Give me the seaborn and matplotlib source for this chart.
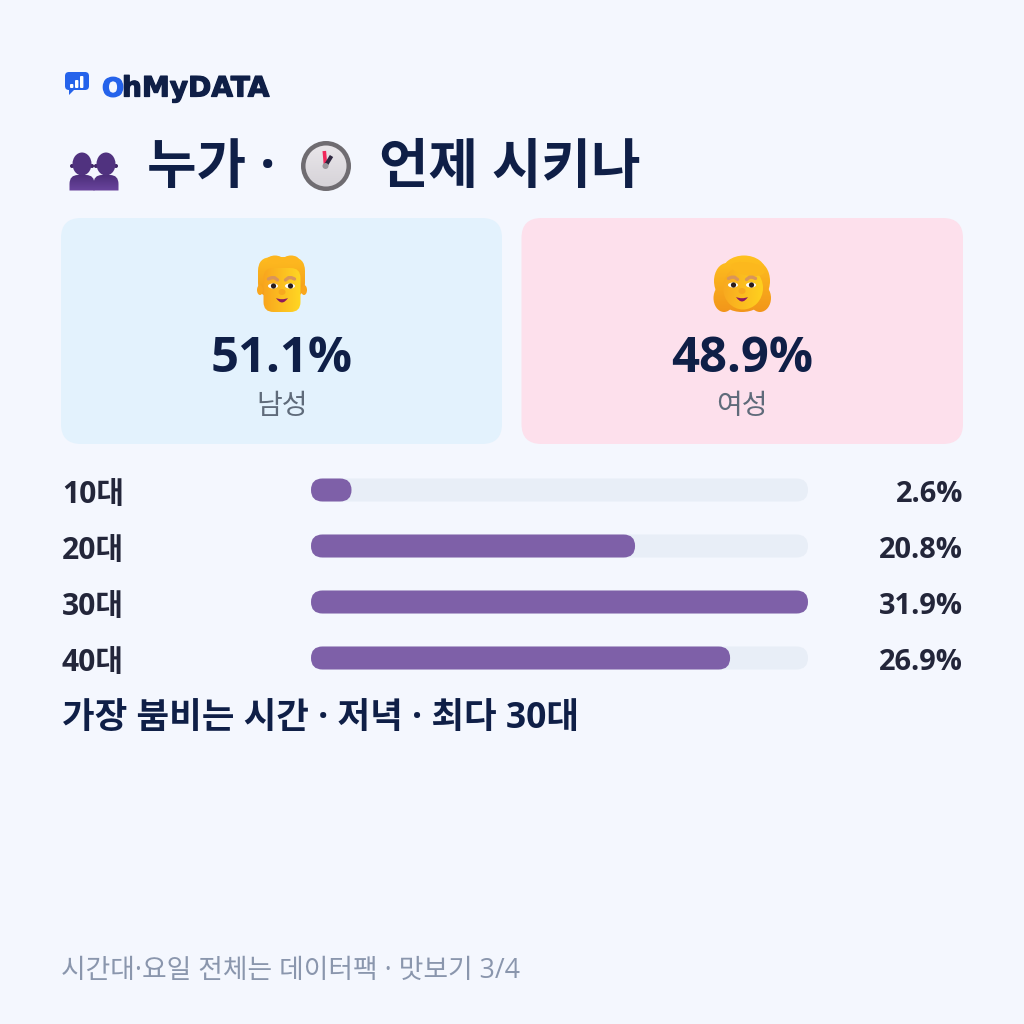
import numpy as np
import pandas as pd
import seaborn as sns
import matplotlib
matplotlib.use("Agg")
import matplotlib.pyplot as plt
from matplotlib.patches import FancyBboxPatch, Circle, Ellipse, Polygon, PathPatch
from matplotlib.path import Path
from matplotlib.colors import LinearSegmentedColormap
import matplotlib.patheffects as pe

age_labels = ["10대", "20대", "30대", "40대"]
age_shares = [2.6, 20.8, 31.9, 26.9]
gender_labels = ["남성", "여성"]
gender_shares = [51.1, 48.9]
title_parts = ["누가 ·", "언제 시키나"]
headline = "가장 붐비는 시간 · 저녁 · 최다 30대"
footer = "시간대·요일 전체는 데이터팩 · 맛보기 3/4"

BG = "#f4f7fe"
NAVY = "#0f1f47"
INK = "#23263a"
BAR = "#7e60a8"
TRACK = "#e8eef7"

sns.set_theme(style="white")
BODY_FONT = ["Open Sans", "Noto Sans CJK KR", "DejaVu Sans"]
plt.rcParams["font.family"] = BODY_FONT

fig = plt.figure(figsize=(10.24, 10.24), dpi=100, facecolor=BG)
canvas = fig.add_axes([0, 0, 1, 1])
canvas.set_xlim(0, 1024)
canvas.set_ylim(1024, 0)
canvas.axis("off")
canvas.set_autoscale_on(False)


def px(size):
    return size * 0.72


def bold_text(x, y, s, color, size, ha="left"):
    return canvas.text(x, y, s, color=color, fontsize=px(size), fontweight="bold",
                       ha=ha, va="center", zorder=20)


def rounded(x0, y0, x1, y1, r, color, z=2):
    patch = FancyBboxPatch((x0, y0), x1 - x0, y1 - y0,
                           boxstyle=f"round,pad=0,rounding_size={r}",
                           fc=color, ec="none", zorder=z)
    canvas.add_patch(patch)
    return patch


def shaded(patch, colors, extent, z, horizontal=False):
    """Fill a patch with a linear gradient clipped to its outline."""
    patch.set_facecolor("none")
    canvas.add_patch(patch)
    cmap = LinearSegmentedColormap.from_list("fill", colors)
    ramp = np.linspace(0, 1, 128).reshape(-1, 1)
    if horizontal:
        ramp = ramp.T
    img = canvas.imshow(ramp, cmap=cmap, extent=extent, aspect="auto",
                        origin="upper", zorder=z, interpolation="bilinear")
    img.set_clip_path(patch)
    canvas.set_xlim(0, 1024)
    canvas.set_ylim(1024, 0)


# Brand mark and wordmark
rounded(65, 72, 89, 90, 4, "#2563eb", 3)
canvas.add_patch(Polygon([[69, 88], [75, 89], [69, 95]], fc="#2563eb", ec="none", zorder=3))
for x0, y0 in [(70, 84), (75, 80), (80, 76)]:
    rounded(x0, y0, x0 + 3.4, 88, 1, "white", 4)
mark_o = canvas.text(102, 96.5, "O", color="#2563eb", fontsize=px(26), family="DejaVu Sans",
                     fontweight="bold", va="baseline", ha="left")
mark_o.set_path_effects([pe.withStroke(linewidth=0.9, foreground="#2563eb")])
wordmark = canvas.text(122, 96.5, "hMyDATA", color=NAVY, fontsize=px(28), family="DejaVu Sans",
                       fontweight="bold", va="baseline", ha="left")
wordmark.set_path_effects([pe.withStroke(linewidth=0.9, foreground=NAVY)])

# Title row: silhouettes of two people
for cx in (82, 106):
    shoulders = Path([(cx - 12.5, 190.5), (cx - 12.5, 184), (cx - 12.5, 175), (cx - 4, 175),
                      (cx + 4, 175), (cx + 12.5, 175), (cx + 12.5, 184), (cx + 12.5, 190.5),
                      (cx - 12.5, 190.5)],
                     [Path.MOVETO, Path.LINETO, Path.CURVE3, Path.CURVE3, Path.LINETO,
                      Path.CURVE3, Path.CURVE3, Path.LINETO, Path.CLOSEPOLY])
    shaded(PathPatch(shoulders, ec="none", fc="none", zorder=5),
           ["#4b2d78", "#6a459e"], (cx - 13, cx + 13, 191, 174), 5)
    canvas.add_patch(Ellipse((cx, 164), 19, 23, fc="#50327f", ec="none", zorder=6))
    canvas.add_patch(Circle((cx - 10, 166), 2, fc="#3f2566", ec="none", zorder=5))
    canvas.add_patch(Circle((cx + 10, 166), 2, fc="#3f2566", ec="none", zorder=5))

bold_text(147, 169, title_parts[0], NAVY, 53.8)

# Title row: clock face
canvas.add_patch(Circle((326, 166), 25, fc="#6f6c71", ec="none", zorder=5))
face = Circle((326, 166), 20.5, ec="none", fc="none", zorder=6)
shaded(face, ["#e9e6ea", "#d6d3d8"], (305, 347, 187, 145), 6)
canvas.plot([325.5, 324.3], [165, 151], color="#f0285a", lw=2.6, solid_capstyle="butt", zorder=7)
canvas.plot([326, 331.5], [165, 156], color="#2e2740", lw=2.8, solid_capstyle="butt", zorder=7)
canvas.add_patch(Circle((325.5, 166), 3, fc="#9a979c", ec="none", zorder=8))

bold_text(379, 169, title_parts[1], NAVY, 53.8)

# Gender cards
rounded(61, 218, 502, 444, 20, "#e3f2fd", 1)
rounded(521.5, 218, 963, 444, 20, "#fde0ec", 1)
for cx, share, label in zip((282, 742), gender_shares, gender_labels):
    bold_text(cx, 360, f"{share}%", NAVY, 49, ha="center")
    canvas.text(cx, 407, label, color="#5f6b7a", fontsize=px(28), ha="center", va="center")


def face_details(lx, rx, eye_y, brow_y, mouth_x, mouth_y, z=12):
    for side, ex in ((-1, lx), (1, rx)):
        canvas.add_patch(Ellipse((ex, eye_y), 10, 5, fc="white", ec="none", zorder=z))
        canvas.add_patch(Circle((ex + 0.5, eye_y), 2.6, fc="#2a1c1c", ec="none", zorder=z + 1))
        canvas.plot([ex - 4.5, ex - 1.5, ex + 1.5, ex + 4.5],
                    [brow_y + 1 + side * 0.5, brow_y - 0.8, brow_y - 0.8, brow_y + 1 - side * 0.5],
                    color="#d9955a", lw=2.4, solid_capstyle="round", zorder=z)
    mouth = Path([(mouth_x - 6, mouth_y - 2), (mouth_x, mouth_y + 0.5), (mouth_x + 6, mouth_y - 2),
                  (mouth_x, mouth_y + 7), (mouth_x - 6, mouth_y - 2)],
                 [Path.MOVETO, Path.CURVE3, Path.CURVE3, Path.CURVE3, Path.CURVE3])
    canvas.add_patch(PathPatch(mouth, fc="#8e1a5c", ec="none", zorder=z))
    canvas.add_patch(Ellipse((mouth_x, mouth_y - 8), 7, 6, fc="#f7a91e", ec="none", zorder=z - 1))


# Man: short swept hair, square face
man_hair = FancyBboxPatch((258, 257), 47, 40, boxstyle="round,pad=0,rounding_size=14",
                          ec="none", fc="none", zorder=8)
shaded(man_hair, ["#ffbe1f", "#f29a1c"], (256, 307, 297, 255), 8)
for cx, w in ((275, 16), (291, 16)):
    canvas.add_patch(Ellipse((cx, 260), w, 9, fc="#fdb61f", ec="none", zorder=8))
canvas.add_patch(Ellipse((260, 290), 6, 10, fc="#f9a61c", ec="none", zorder=8))
canvas.add_patch(Ellipse((304, 290), 6, 10, fc="#f9a61c", ec="none", zorder=8))
man_face = FancyBboxPatch((263.5, 268), 37, 44, boxstyle="round,pad=0,rounding_size=10",
                          ec="none", fc="none", zorder=9)
shaded(man_face, ["#f9a51e", "#ffd723"], (263, 301, 312, 268), 9, horizontal=True)
face_details(273, 290, 286, 278.5, 282, 300)

# Woman: full wavy hair, round face
for cx, cy, w, h in [(744, 272, 44, 33), (727, 281, 26, 36), (757, 281, 26, 38),
                     (724, 298, 21, 28), (760, 298, 22, 28), (742, 300, 40, 24)]:
    lobe = Ellipse((cx, cy), w, h, ec="none", fc="none", zorder=8)
    shaded(lobe, ["#ffc21f", "#f2951a"], (712, 773, 313, 255), 8)
woman_face = Ellipse((743, 288), 40, 43, ec="none", fc="none", zorder=9)
shaded(woman_face, ["#f8a81f", "#ffd21f"], (722, 764, 310, 264), 9, horizontal=True)
canvas.add_patch(Ellipse((748, 269), 34, 13, angle=10, fc="#fcb81d", ec="none", zorder=10))
face_details(733, 751, 285, 278, 742, 299)

# Age bars: seaborn draws them, then each one is rounded at its computed extent
bar_ax = fig.add_axes([311 / 1024, 1 - 686 / 1024, 497 / 1024, 224 / 1024])
bar_ax.patch.set_alpha(0)
ages = pd.DataFrame({"age": age_labels, "share": age_shares})
sns.barplot(data=ages, x="share", y="age", color=BAR, width=23 / 56, saturation=1, ax=bar_ax)
bar_ax.set_xlim(0, max(age_shares))
bar_ax.set_ylim(3.5, -0.5)
bar_ax.set_axis_off()

x_scale = 497 / max(age_shares)
radius = 11.5 / x_scale
aspect = x_scale / 56
top = max(age_shares)
for bar in list(bar_ax.patches):
    x, y, w, h = bar.get_x(), bar.get_y(), bar.get_width(), bar.get_height()
    for left, width, color, z in [(0, top, TRACK, 1), (x, w, BAR, 2)]:
        bar_ax.add_patch(FancyBboxPatch((left, y), width, h,
                                        boxstyle=f"round,pad=0,rounding_size={radius}",
                                        mutation_aspect=aspect, fc=color, ec="none", zorder=z))
    bar.remove()

for i, (label, share) in enumerate(zip(age_labels, age_shares)):
    row_y = 490 + 56 * i
    bold_text(62, row_y + 5, label, INK, 30)
    bold_text(963, row_y + 5, f"{share}%", INK, 29, ha="right")

bold_text(62, 719, headline, NAVY, 35.5)
canvas.text(61, 971, footer, color="#8a96ad", fontsize=px(26.8), ha="left", va="center")

fig.savefig("out.png", dpi=100, facecolor=BG)
